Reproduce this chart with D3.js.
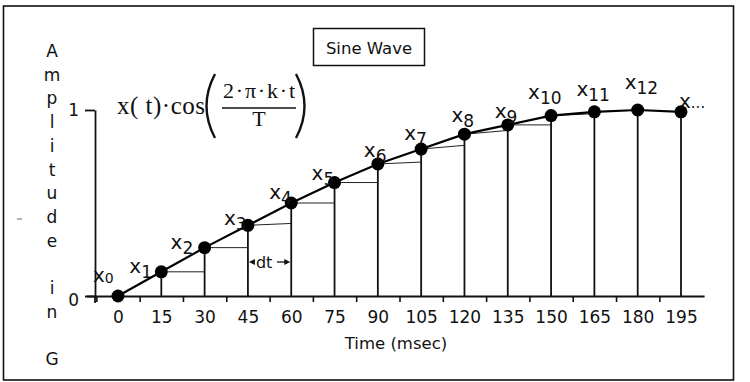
<!DOCTYPE html>
<html><head><meta charset="utf-8">
<script src="https://cdn.jsdelivr.net/npm/d3@7"></script>
<style>
html,body{margin:0;padding:0;background:#fff;}
svg{display:block;}
.sans{font-family:"DejaVu Sans",Verdana,sans-serif;}
.serif{font-family:"Liberation Serif","Times New Roman",serif;}
</style></head>
<body><svg id="c" width="750" height="382"></svg>
<script>
// ---- data ----
const times = [0, 15, 30, 45, 60, 75, 90, 105, 120, 135, 150, 165, 180, 195];
const amplitude = [0, 0.13, 0.26, 0.38, 0.5, 0.61, 0.71, 0.79, 0.87, 0.92, 0.97, 0.99, 1.0, 0.99];
// thin step lines: end height at next sample
const stepEnd = [null, 0.13, 0.26, 0.39, 0.5, 0.61, 0.72, 0.81, 0.89, 0.92, 0.98];
const tickLabels = ["0","15","30","45","60","75","90","105","120","135","150","165","180","195"];
const minorTicks = [-7.5, 7.5, 22.5, 37.5, 52.5, 67.5, 82.5, 97.5, 112.5, 127.5, 142.5, 157.5, 172.5, 187.5];
const yTicks = [0, 1];
const pointNames = ["0","1","2","3","4","5","6","7","8","9","10","11","12","..."];
const yTitle = "Amplitude in G".split("");
const xTitle = "Time (msec)";
const boxTitle = "Sine Wave";

// ---- layout ----
const labelOff = [[-25,-14],[-32,1],[-34,1],[-24,0],[-22,-4],[-23,-3],[-14,-7],[-17,-9],[-13,-12],[-13,-7],[-23,-17],[-18,-16],[-13,-21],[-2,-4]];

const svg = d3.select("#c");
const x = d3.scaleLinear().domain([0,195]).range([118,681]);
const y = d3.scaleLinear().domain([0,1]).range([296,110]);
const xAxisScale = x.copy().domain([-11,203]).range([x(-11), x(203)]);

// frame
svg.append("rect").attr("x",3.5).attr("y",6).attr("width",730).attr("height",374)
  .attr("fill","none").attr("stroke","#111").attr("stroke-width",1.6);
// stray mark
svg.append("line").attr("x1",17).attr("x2",22).attr("y1",219).attr("y2",219).attr("stroke","#666").attr("stroke-width",1);

// x axis line + minor ticks
const gx = svg.append("g").attr("transform",`translate(0,${y(0)})`)
  .call(d3.axisBottom(xAxisScale).tickValues(minorTicks).tickFormat("").tickSize(6).tickSizeOuter(0));
gx.select(".domain").attr("stroke","#111").attr("stroke-width",1.8);
gx.selectAll(".tick line").attr("stroke","#111").attr("stroke-width",1.6);

// x tick labels
const gxl = svg.append("g").attr("transform",`translate(0,${y(0)})`)
  .call(d3.axisBottom(x).tickValues(times).tickFormat((d,i)=>tickLabels[i]).tickSize(0).tickPadding(0));
gxl.select(".domain").remove();
gxl.selectAll(".tick text").attr("class","sans").attr("font-size",17).attr("fill","#111")
  .attr("dy",null).attr("y",27);

// y axis
const gy = svg.append("g").attr("transform",`translate(95,0)`)
  .call(d3.axisLeft(y).tickValues(yTicks).tickFormat(d3.format("d")).tickSize(10).tickSizeOuter(0).tickPadding(6));
gy.select(".domain").attr("stroke","#111").attr("stroke-width",1.8);
gy.selectAll(".tick line").attr("stroke","#111").attr("stroke-width",1.8);
gy.selectAll(".tick text").attr("class","sans").attr("font-size",17).attr("fill","#111");
gy.selectAll(".tick").filter(d=>d===0).select("text").attr("dy","0.55em");
svg.append("line").attr("x1",95).attr("x2",95).attr("y1",y(0)).attr("y2",y(0)+7)
  .attr("stroke","#111").attr("stroke-width",1.8);

// vertical sample lines
svg.append("g").selectAll("line").data(times.slice(1)).join("line")
  .attr("x1",d=>x(d)).attr("x2",d=>x(d))
  .attr("y1",(d,i)=>y(amplitude[i+1])).attr("y2",y(0))
  .attr("stroke","#111").attr("stroke-width",1.8);

// thin step lines
const steps = d3.range(1, stepEnd.length).filter(k=>k+1<times.length);
svg.append("g").selectAll("line").data(steps).join("line")
  .attr("x1",k=>x(times[k])).attr("x2",k=>x(times[k+1]))
  .attr("y1",k=>y(amplitude[k])).attr("y2",k=>y(stepEnd[k]))
  .attr("stroke","#222").attr("stroke-width",1);

// signal line
svg.append("path").datum(times.map((t,i)=>[t,amplitude[i]]))
  .attr("d", d3.line().x(d=>x(d[0])).y(d=>y(d[1])))
  .attr("fill","none").attr("stroke","#000").attr("stroke-width",2.2);

// points
svg.append("g").selectAll("circle").data(times).join("circle")
  .attr("cx",d=>x(d)).attr("cy",(d,i)=>y(amplitude[i])).attr("r",6.5).attr("fill","#000");

// point labels
const lab = svg.append("g").selectAll("text").data(times).join("text")
  .attr("class","sans").attr("fill","#111")
  .attr("x",(d,i)=>x(d)+labelOff[i][0]).attr("y",(d,i)=>y(amplitude[i])+labelOff[i][1]);
lab.append("tspan").attr("font-size",20).text("x");
lab.append("tspan").attr("font-size",(d,i)=>i===0?14:(i===13?15:17)).attr("dy",(d,i)=>i===13?0:(i===0?1:5))
  .text((d,i)=>pointNames[i]);

// dt annotation
const dtY = 262;
const dtg = svg.append("g");
dtg.append("path").attr("d",`M${x(45)+1},${dtY} l6,-3 l0,6 z`).attr("fill","#111");
dtg.append("text").attr("class","sans").attr("font-size",16).attr("fill","#111")
  .attr("x",x(45)+8).attr("y",dtY+6).text("dt");
dtg.append("line").attr("x1",x(45)+29).attr("x2",x(60)-4).attr("y1",dtY).attr("y2",dtY).attr("stroke","#111").attr("stroke-width",1.3);
dtg.append("path").attr("d",`M${x(60)-1},${dtY} l-6,-3 l0,6 z`).attr("fill","#111");

// y title (stacked letters)
svg.append("g").selectAll("text").data(yTitle).join("text")
  .attr("class","sans").attr("font-size",17).attr("fill","#111").attr("text-anchor","middle")
  .attr("x",52).attr("y",(d,i)=>57+i*23.7).text(d=>d);

// x title
svg.append("text").attr("class","sans").attr("font-size",16.5).attr("fill","#111")
  .attr("text-anchor","middle").attr("x",396).attr("y",349).text(xTitle);

// title box
svg.append("rect").attr("x",313.5).attr("y",28.5).attr("width",111).attr("height",37)
  .attr("fill","#fff").attr("stroke","#111").attr("stroke-width",1.5);
svg.append("text").attr("class","sans").attr("font-size",16.5).attr("fill","#111")
  .attr("text-anchor","middle").attr("x",369).attr("y",54).text(boxTitle);

// formula
const f = svg.append("g").attr("class","serif").attr("fill","#111");
f.append("text").attr("x",117).attr("y",114).attr("font-size",25).attr("textLength",88).text("x( t)\u00B7cos");
f.append("path").attr("d","M215,74 Q198,106 215,138").attr("fill","none").attr("stroke","#111").attr("stroke-width",2.4);
f.append("path").attr("d","M296,74 Q313,106 296,138").attr("fill","none").attr("stroke","#111").attr("stroke-width",2.4);
f.append("text").attr("x",259).attr("y",98).attr("font-size",22).attr("text-anchor","middle").attr("textLength",72).text("2\u00B7\u03C0\u00B7k\u00B7t");
f.append("line").attr("x1",222).attr("x2",296).attr("y1",108).attr("y2",108).attr("stroke","#111").attr("stroke-width",1.6);
f.append("text").attr("x",259).attr("y",126).attr("font-size",22).attr("text-anchor","middle").text("T");
</script></body></html>
